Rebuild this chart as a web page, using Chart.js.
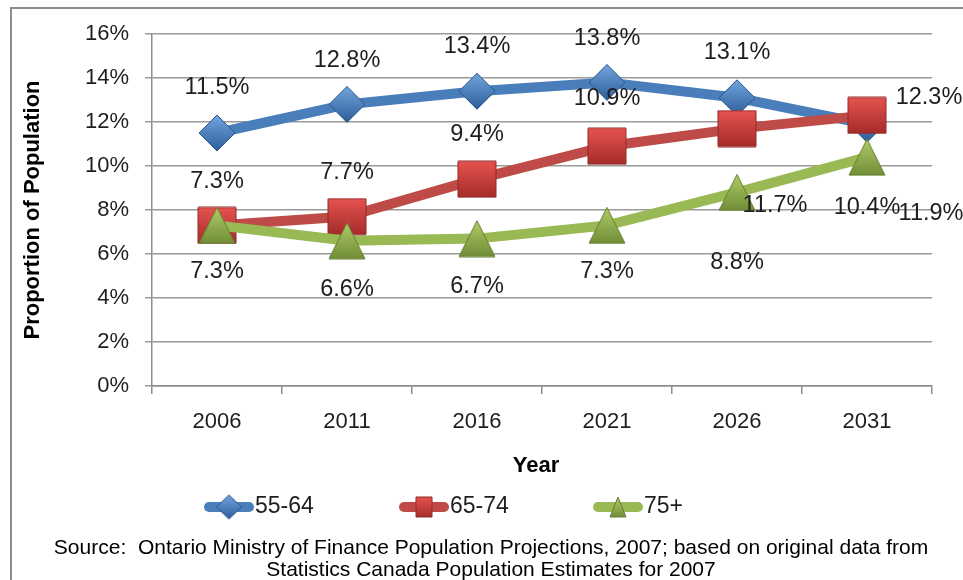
<!DOCTYPE html>
<html>
<head>
<meta charset="utf-8">
<script src="https://cdn.jsdelivr.net/npm/chart.js@4.4.1/dist/chart.umd.min.js"></script>
<style>
  html, body { margin: 0; padding: 0; background: #fff; }
  canvas { display: block; }
</style>
</head>
<body>
<canvas id="myChart" width="963" height="580"></canvas>
<script>
// data
const years = ['2006', '2011', '2016', '2021', '2026', '2031'];
const age5564 = [11.5, 12.8, 13.4, 13.8, 13.1, 11.9];
const age6574 = [7.3, 7.7, 9.4, 10.9, 11.7, 12.3];
const age75 = [7.3, 6.6, 6.7, 7.3, 8.8, 10.4];
const seriesNames = ['55-64', '65-74', '75+'];
const yTicks = [0, 2, 4, 6, 8, 10, 12, 14, 16];

// where each value label sits relative to its point (dx, dy)
const labelOffsets = [
  [[0, -45], [0, -44], [0, -45], [0, -44], [0, -45], [64, 89]],
  [[0, -44], [0, -44], [0, -45], [0, -48], [38, 77], [62, -18]],
  [[0, 46], [0, 49], [0, 48], [0, 46], [0, 70], [0, 50]]
];

const FONT = "'Liberation Sans', Arial, sans-serif";
const TXT = '#1e1e1e';

// little shaded markers, drawn once and used as point styles
function makeMarker(shape, w, h, light, dark, edge) {
  const c = document.createElement('canvas');
  c.width = w; c.height = h;
  const g = c.getContext('2d');
  const grad = g.createLinearGradient(0, 0, 0, h);
  grad.addColorStop(0, light);
  grad.addColorStop(1, dark);
  g.beginPath();
  if (shape === 'diamond') {
    g.moveTo(w / 2, 1); g.lineTo(w - 1, h / 2); g.lineTo(w / 2, h - 1); g.lineTo(1, h / 2);
  } else if (shape === 'square') {
    g.rect(1, 1, w - 2, h - 2);
  } else {
    g.moveTo(w / 2, 1); g.lineTo(w - 1, h - 1); g.lineTo(1, h - 1);
  }
  g.closePath();
  g.fillStyle = grad;
  g.fill();
  g.lineWidth = 1;
  g.strokeStyle = edge;
  g.stroke();
  return c;
}

const markers = [
  makeMarker('diamond', 38, 38, '#74a6e0', '#2b5c97', '#2a5890'),
  makeMarker('square', 40, 38, '#e85450', '#a32b29', '#8e2a28'),
  makeMarker('triangle', 38, 38, '#b0cf68', '#6f8c36', '#667f33')
];
const legendMarkers = [
  makeMarker('diamond', 27, 26, '#74a6e0', '#2b5c97', '#2a5890'),
  makeMarker('square', 18, 22, '#e85450', '#a32b29', '#8e2a28'),
  makeMarker('triangle', 18, 22, '#b0cf68', '#6f8c36', '#667f33')
];
const lineColors = ['#4a7ebb', '#be4b48', '#98b954'];

const valueLabels = {
  id: 'valueLabels',
  afterDatasetsDraw(chart) {
    const ctx = chart.ctx;
    ctx.save();
    ctx.font = '23.5px ' + FONT;
    ctx.fillStyle = TXT;
    ctx.textAlign = 'center';
    ctx.textBaseline = 'middle';
    chart.data.datasets.forEach((ds, i) => {
      const meta = chart.getDatasetMeta(i);
      meta.data.forEach((pt, j) => {
        const off = labelOffsets[i][j];
        ctx.fillText(ds.data[j].toFixed(1) + '%', pt.x + off[0], pt.y + off[1]);
      });
    });
    ctx.restore();
  }
};

const extras = {
  id: 'extras',
  afterDraw(chart) {
    const ctx = chart.ctx;
    ctx.save();
    // frame
    ctx.strokeStyle = '#8c8c8c';
    ctx.lineWidth = 2;
    ctx.strokeRect(11, 8, 1000, 1000);

    ctx.fillStyle = '#000';
    ctx.textAlign = 'center';
    ctx.textBaseline = 'middle';
    ctx.font = 'bold 22px ' + FONT;
    ctx.fillText('Year', 536, 466);
    ctx.save();
    ctx.translate(33, 210);
    ctx.rotate(-Math.PI / 2);
    ctx.fillText('Proportion of Population', 0, 0, 276);
    ctx.restore();

    // legend
    const legendX = [205, 400, 594];
    const ly = 507;
    ctx.font = '23px ' + FONT;
    ctx.textAlign = 'left';
    ctx.fillStyle = TXT;
    seriesNames.forEach((name, i) => {
      const x = legendX[i];
      ctx.strokeStyle = lineColors[i];
      ctx.lineWidth = 10;
      ctx.lineCap = 'round';
      ctx.beginPath();
      ctx.moveTo(x + 4, ly);
      ctx.lineTo(x + 44, ly);
      ctx.stroke();
      const m = legendMarkers[i];
      ctx.drawImage(m, x + 24 - m.width / 2, ly - m.height / 2);
      ctx.fillText(name, x + 50, ly);
    });

    // source note
    ctx.textAlign = 'center';
    ctx.fillStyle = '#000';
    ctx.font = '21px ' + FONT;
    ctx.fillText('Source:  Ontario Ministry of Finance Population Projections, 2007; based on original data from', 491, 548, 882);
    ctx.fillText('Statistics Canada Population Estimates for 2007', 491, 570, 497);
    ctx.restore();
  }
};

const ctx = document.getElementById('myChart').getContext('2d');
new Chart(ctx, {
  type: 'line',
  data: {
    labels: years,
    datasets: [age5564, age6574, age75].map((vals, i) => ({
      label: seriesNames[i],
      data: vals,
      borderColor: lineColors[i],
      backgroundColor: lineColors[i],
      borderWidth: 10,
      tension: 0,
      pointStyle: markers[i],
      pointRadius: 19,
      pointHoverRadius: 19,
      order: 3 - i,
      clip: false
    }))
  },
  options: {
    responsive: false,
    animation: false,
    devicePixelRatio: 1,
    layout: { padding: { top: 34, right: 31, left: 0, bottom: 0 } },
    plugins: {
      legend: { display: false },
      tooltip: { enabled: false }
    },
    scales: {
      x: {
        offset: true,
        grid: { drawOnChartArea: false, drawTicks: true, tickLength: 8, color: '#8c8c8c', lineWidth: 1.5, offset: true },
        border: { display: true, color: '#8c8c8c', width: 1.5 },
        ticks: { color: TXT, font: { family: FONT, size: 22 }, padding: 15 },
        afterFit: s => { s.height = 194; }
      },
      y: {
        min: 0,
        max: 16,
        afterBuildTicks: s => { s.ticks = yTicks.map(v => ({ value: v })); },
        grid: { color: '#999', lineWidth: 1.5, tickLength: 7 },
        border: { display: true, color: '#8c8c8c', width: 1.5 },
        ticks: { color: TXT, font: { family: FONT, size: 22 }, padding: 16, callback: v => v + '%' },
        afterFit: s => { s.width = 152; }
      }
    }
  },
  plugins: [valueLabels, extras]
});
</script>
</body>
</html>
